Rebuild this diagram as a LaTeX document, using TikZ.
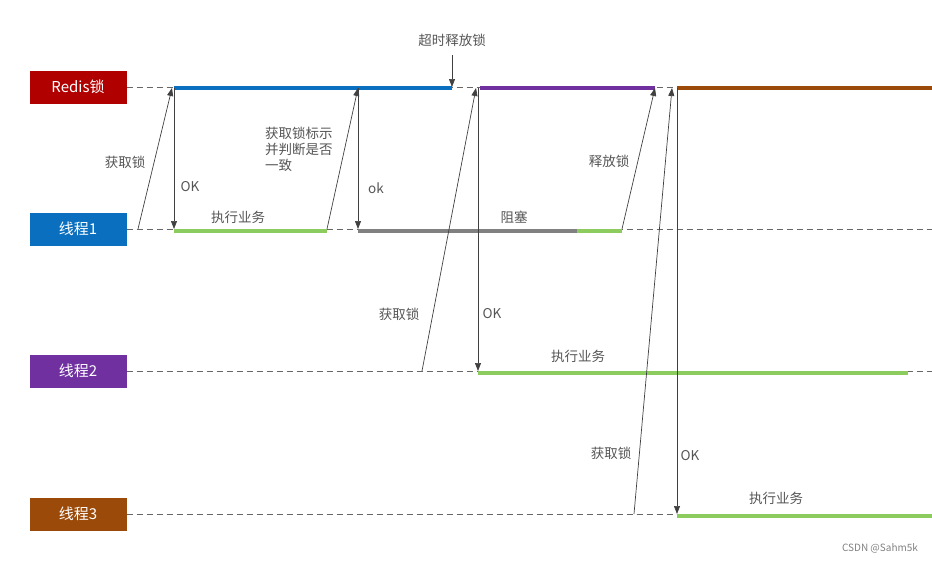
\documentclass[tikz,border=0pt]{standalone}
\usepackage{fontspec}
\setmainfont{Noto Sans CJK SC}
\usetikzlibrary{arrows.meta}
\definecolor{redisred}{HTML}{B00000}
\definecolor{tblue}{HTML}{0A6FBF}
\definecolor{tpurple}{HTML}{7030A0}
\definecolor{tbrown}{HTML}{9C4A0A}
\definecolor{bizgreen}{HTML}{8CCB5E}
\definecolor{lblgray}{HTML}{555555}
\tikzset{
  lane/.style={fill=#1, text=white, minimum width=97pt, minimum height=33pt, inner sep=0pt, font=\fontsize{15}{15}\selectfont},
  track/.style={gray!80!black, thin, dash pattern=on 6pt off 4pt},
  seg/.style={line width=4.5pt, draw=#1},
  msg/.style={-{Triangle[length=8pt,width=6pt]}, black!75, line width=0.7pt},
  lbl/.style={text=lblgray, font=\fontsize{13.5}{16}\selectfont, inner sep=1pt}
}
\begin{document}
\begin{tikzpicture}[x=1pt, y=-1pt]
\useasboundingbox (0,0) rectangle (932,562);
% lanes
\node[lane=redisred] (redis) at (78,87) {Redis锁};
\node[lane=tblue] (t1) at (78,229) {线程1};
\node[lane=tpurple] (t2) at (78,371) {线程2};
\node[lane=tbrown] (t3) at (78,514) {线程3};
\draw[track] (redis.east) -- (932,87);
\draw[track] (t1.east) -- (932,229);
\draw[track] (t2.east) -- (932,371);
\draw[track] (t3.east) -- (932,514);
% lock holders
\draw[seg=tblue] (174,88) -- (452,88);
\draw[seg=tpurple] (480,88) -- (655,88);
\draw[seg=tbrown] (677,88) -- (932,88);
% work on threads
\draw[seg=bizgreen] (174,231) -- (327,231);
\draw[seg=gray] (358,231) -- (577,231);
\draw[seg=bizgreen] (577,231) -- (622,231);
\draw[seg=bizgreen] (478,373) -- (908,373);
\draw[seg=bizgreen] (677,516) -- (932,516);
% points
\coordinate (a1) at (138,229); \coordinate (l1) at (172,88);
\coordinate (ok1) at (174,229);
\coordinate (a2) at (327,229); \coordinate (l2) at (358,88);
\coordinate (ok2) at (358,229);
\coordinate (tout) at (452,55); \coordinate (l3) at (452,87);
\coordinate (a3) at (422,371); \coordinate (l4) at (476,88);
\coordinate (ok3) at (478,371);
\coordinate (r1) at (622,229); \coordinate (l5) at (655,88);
\coordinate (a4) at (634,514); \coordinate (l6) at (672,88);
\coordinate (ok4) at (677,514);
% messages
\draw[msg] (a1) -- (l1);
\draw[msg] (l1 -| ok1) -- (ok1);
\draw[msg] (a2) -- (l2);
\draw[msg] (l2) -- (ok2);
\draw[msg] (tout) -- (l3);
\draw[msg] (a3) -- (l4);
\draw[msg] (l4 -| ok3) -- (ok3);
\draw[msg] (r1) -- (l5);
\draw[msg] (a4) -- (l6);
\draw[msg] (l6 -| ok4) -- (ok4);
% labels
\node[lbl] (n1) at (125,162) {获取锁};
\node[lbl] (n2) at (190,187) {OK};
\node[lbl] (n3) at (238,217) {执行业务};
\node[lbl, align=left, anchor=north west] (n4) at (264,126) {获取锁标示\\并判断是否\\一致};
\node[lbl] (n5) at (376,188) {ok};
\node[lbl] (n6) at (452,40) {超时释放锁};
\node[lbl] (n7) at (514,217) {阻塞};
\node[lbl] (n8) at (609,161) {释放锁};
\node[lbl] (n9) at (399,314) {获取锁};
\node[lbl] (n10) at (492,314) {OK};
\node[lbl] (n11) at (578,356) {执行业务};
\node[lbl] (n12) at (611,453) {获取锁};
\node[lbl] (n13) at (690,456) {OK};
\node[lbl] (n14) at (776,498) {执行业务};
\node[text=gray, font=\fontsize{10}{10}\selectfont] (mark) at (880,548) {CSDN @Sahm5k};
\end{tikzpicture}
\end{document}
